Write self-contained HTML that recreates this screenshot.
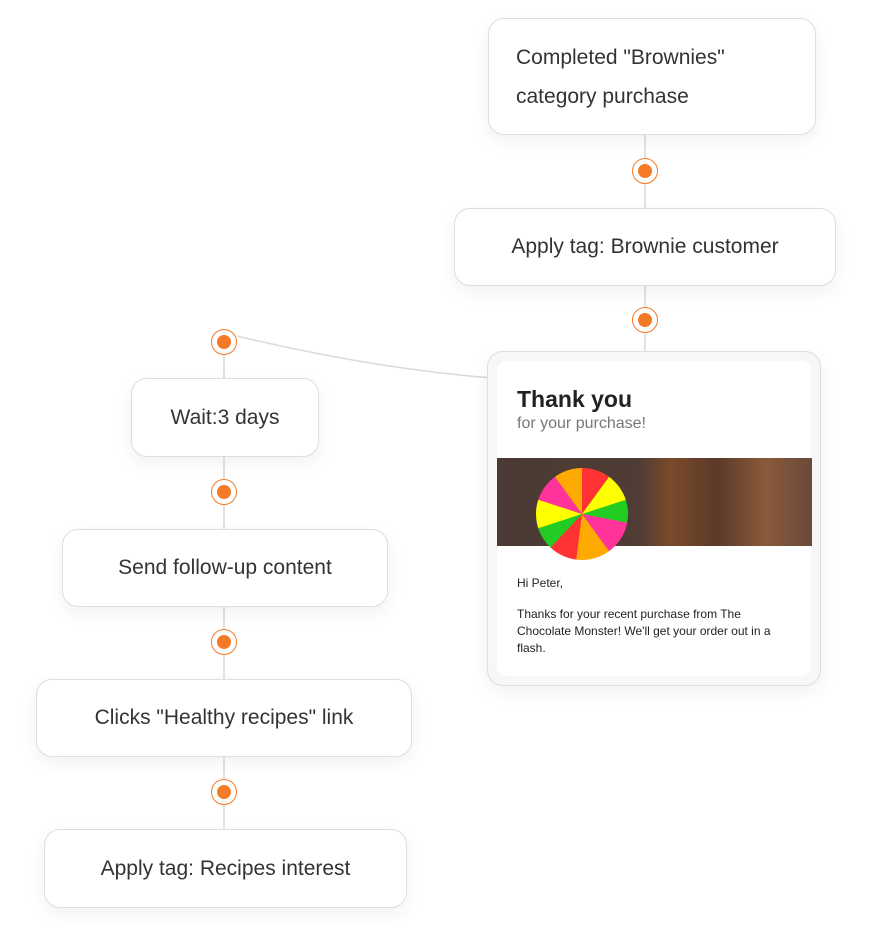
<!DOCTYPE html>
<html><head><style>
body{margin:0;width:872px;height:952px;background:#fff;position:relative;font-family:"Liberation Sans","DejaVu Sans",sans-serif;overflow:hidden}
.b{position:absolute;box-sizing:border-box;background:#fff;border:1.5px solid #dedede;border-radius:16px;box-shadow:0 6px 18px rgba(0,0,0,0.06);display:flex;align-items:center;justify-content:center;font-size:21px;color:#333}
.d{position:absolute;width:24px;height:24px;margin:-13px 0 0 -13px;border:1.5px solid #f47a27;border-radius:50%;background:#fff}
.d::after{content:"";position:absolute;left:5px;top:5px;width:14px;height:14px;border-radius:50%;background:#f47a27}
</style></head><body>
<svg width="872" height="952" style="position:absolute;left:0;top:0">
<g stroke="#d9d9d9" stroke-width="1.5" fill="none">
<line x1="645" y1="134" x2="645" y2="352"/>
<line x1="224" y1="342" x2="224" y2="830"/>
<path d="M237 336 Q370 368 492 378"/>
</g></svg>
<div class="b" style="left:488px;top:18px;width:328px;height:117px;justify-content:flex-start;padding-left:27px;line-height:39px">Completed "Brownies"<br>category purchase</div>
<div class="b" style="left:454px;top:208px;width:382px;height:78px">Apply tag: Brownie customer</div>
<div class="b" style="left:131px;top:378px;width:188px;height:79px">Wait:3 days</div>
<div class="b" style="left:62px;top:529px;width:326px;height:78px">Send follow-up content</div>
<div class="b" style="left:36px;top:679px;width:376px;height:78px">Clicks "Healthy recipes" link</div>
<div class="b" style="left:44px;top:829px;width:363px;height:79px">Apply tag: Recipes interest</div>
<div class="b" style="left:487px;top:351px;width:334px;height:335px;display:block;background:#f7f7f7">
 <div style="position:absolute;left:9px;top:9px;right:9px;bottom:9px;background:#fff;border-radius:10px"></div>
 <div style="position:absolute;left:29px;top:34px;font-size:23px;font-weight:600;color:#222">Thank you</div>
 <div style="position:absolute;left:29px;top:63px;font-size:16px;color:#777">for your purchase!</div>
 <div style="position:absolute;left:9px;top:106px;width:315px;height:88px;background:linear-gradient(90deg,#4a3a33 0%,#4f3d35 45%,#7a4a2a 55%,#5a3a2a 70%,#8a5a3a 85%,#6a4a3a 100%)"></div>
 <div style="position:absolute;left:48px;top:116px;width:92px;height:92px;border-radius:50%;background:conic-gradient(#f33 0 10%,#ff0 10% 20%,#2c2 20% 28%,#f39 28% 40%,#fa0 40% 52%,#f33 52% 62%,#2c2 62% 70%,#ff0 70% 80%,#f39 80% 90%,#fa0 90%)"></div>
 <div style="position:absolute;left:29px;top:224px;font-size:12px;color:#222">Hi Peter,</div>
 <div style="position:absolute;left:29px;top:254px;width:270px;font-size:12px;line-height:17px;color:#222">Thanks for your recent purchase from The Chocolate Monster! We'll get your order out in a flash.</div>
</div>
<div class="d" style="left:645px;top:171px"></div>
<div class="d" style="left:645px;top:320px"></div>
<div class="d" style="left:224px;top:342px"></div>
<div class="d" style="left:224px;top:492px"></div>
<div class="d" style="left:224px;top:642px"></div>
<div class="d" style="left:224px;top:792px"></div>
</body></html>
